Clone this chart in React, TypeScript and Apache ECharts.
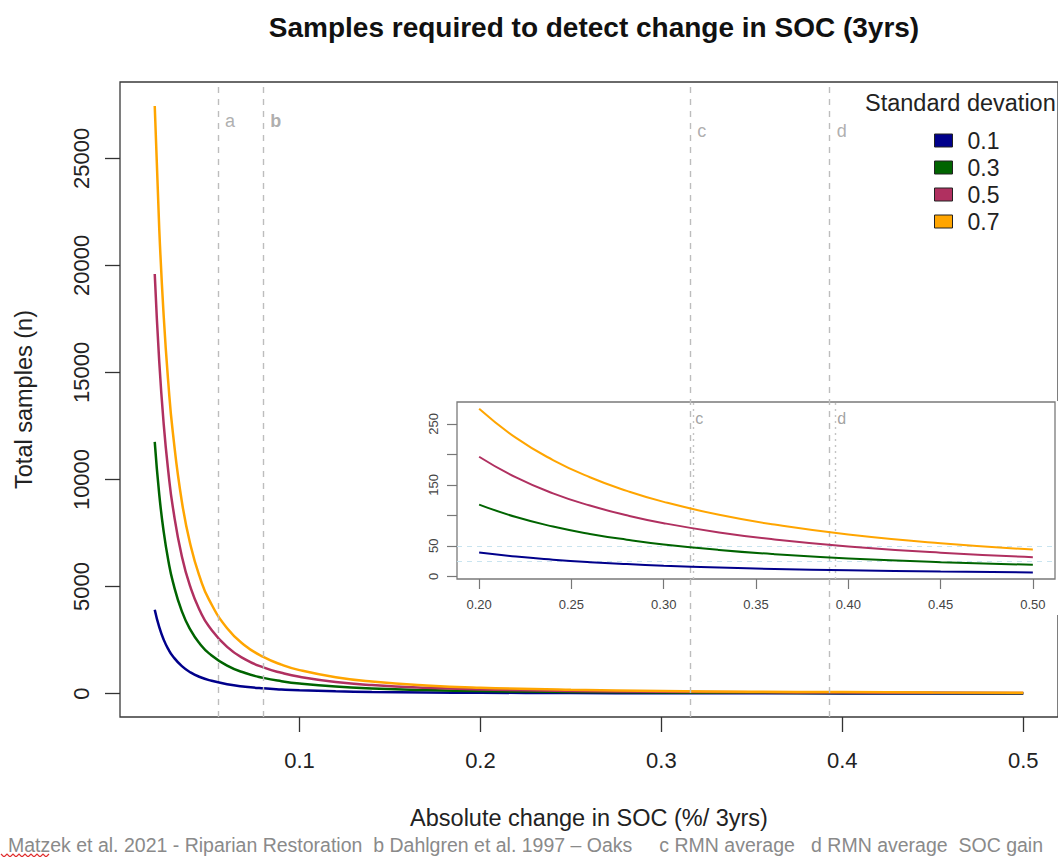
import React, { useEffect, useRef } from "react";
import * as echarts from "echarts";

// ---- data ----
const sdNames = ["0.1", "0.3", "0.5", "0.7"];
const sdColors = ["#00008B", "#006400", "#B03060", "#FFA500"];

// main plot: absolute change in SOC (x) and total samples (y)
const xMain = [0.02, 0.0225, 0.025, 0.0275, 0.03, 0.035, 0.04, 0.045, 0.05, 0.06, 0.07, 0.08, 0.09, 0.1, 0.12, 0.14, 0.17, 0.2, 0.25, 0.3, 0.35, 0.4, 0.45, 0.5];
const mainSd01 = [3920, 3100, 2510, 2075, 1745, 1280, 980, 775, 630, 435, 320, 245, 195, 157, 109, 80, 54, 39, 25, 17, 13, 10, 8, 6];
const mainSd03 = [11760, 9290, 7530, 6220, 5230, 3840, 2940, 2320, 1880, 1305, 960, 735, 580, 470, 327, 240, 163, 118, 75, 52, 38, 29, 23, 19];
const mainSd05 = [19600, 15490, 12540, 10370, 8710, 6400, 4900, 3870, 3135, 2180, 1600, 1225, 970, 784, 544, 400, 271, 196, 125, 87, 64, 49, 39, 31];
const mainSd07 = [27450, 21690, 17570, 14520, 12200, 8960, 6860, 5420, 4390, 3050, 2240, 1715, 1355, 1098, 762, 560, 380, 275, 176, 122, 90, 69, 54, 44];

// inset: zoom on 0.2 - 0.5
const xInset = [0.2, 0.22, 0.24, 0.26, 0.28, 0.3, 0.33, 0.36, 0.4, 0.45, 0.5];
const insetSd01 = [39.2, 32.4, 27.3, 23.2, 20.0, 17.4, 14.4, 12.1, 9.8, 7.8, 6.3];
const insetSd03 = [117.6, 97.1, 81.6, 69.5, 60.0, 52.2, 43.2, 36.3, 29.4, 23.2, 18.8];
const insetSd05 = [196, 162, 136, 116, 100, 87.1, 72.0, 60.5, 49.0, 38.7, 31.4];
const insetSd07 = [274.5, 226.8, 190.6, 162.4, 140.1, 122, 100.8, 84.8, 68.6, 54.2, 43.9];

// reference lines
const refLetters = ["a", "b", "c", "d"];
const refBold = [false, true, false, false];
const refX = [0.055, 0.08, 0.316, 0.393];
const refLabelY = [26750, 26750, 26300, 26300];
const insetRefLetters = ["c", "d"];
const insetRefX = [0.316, 0.393];
const insetRefLabelY = [259, 259];
const insetHLines = [50, 25];

// ticks
const xTicksMain = [0.1, 0.2, 0.3, 0.4, 0.5];
const yTicksMain = [0, 5000, 10000, 15000, 20000, 25000];
const xTicksInset = [0.2, 0.25, 0.3, 0.35, 0.4, 0.45, 0.5];
const yTicksInset = [0, 50, 100, 150, 200, 250];
const yLabelsInset = [0, 50, 150, 250];

const footnote =
  "Matzek et al. 2021 - Riparian Restoration  b Dahlgren et al. 1997 \u2013 Oaks     c RMN average   d RMN average  SOC gain";

const FONT = "'Liberation Sans', Arial, Helvetica, sans-serif";

const pairs = (xs: number[], ys: number[]) => xs.map((x, i) => [x, ys[i]]);

export default function App() {
  const ref = useRef<HTMLDivElement>(null);

  useEffect(() => {
    document.body.style.margin = "0";
    if (!ref.current) return;
    const chart = echarts.init(ref.current, null, { renderer: "svg" });

    const mainSets = [mainSd01, mainSd03, mainSd05, mainSd07];
    const insetSets = [insetSd01, insetSd03, insetSd05, insetSd07];

    const mainSeries: any[] = mainSets.map((ys, i) => ({
      name: sdNames[i],
      type: "line",
      xAxisIndex: 0,
      yAxisIndex: 0,
      data: pairs(xMain, ys),
      showSymbol: false,
      smooth: true,
      lineStyle: { color: sdColors[i], width: 2.5 },
      itemStyle: { color: sdColors[i] },
      z: 2,
      ...(i === 0
        ? {
            markLine: {
              silent: true,
              symbol: "none",
              precision: 4,
              label: { show: false },
              lineStyle: { color: "#bdbdbd", type: [6, 6], width: 1.4 },
              data: refX.map((x) => ({ xAxis: x })),
            },
          }
        : {}),
    }));

    const insetSeries: any[] = insetSets.map((ys, i) => ({
      name: sdNames[i],
      type: "line",
      xAxisIndex: 1,
      yAxisIndex: 1,
      data: pairs(xInset, ys),
      showSymbol: false,
      smooth: true,
      lineStyle: { color: sdColors[i], width: 2 },
      itemStyle: { color: sdColors[i] },
      z: 6,
      ...(i === 0
        ? {
            markLine: {
              silent: true,
              symbol: "none",
              precision: 4,
              label: { show: false },
              data: [
                ...insetRefX.map((x) => ({
                  xAxis: x,
                  lineStyle: { color: "#c4c4c4", type: [2, 4], width: 1.4 },
                })),
                ...insetHLines.map((y) => ({
                  yAxis: y,
                  lineStyle: { color: "#c9e4ef", type: [5, 5], width: 1.2 },
                })),
              ],
            },
          }
        : {}),
    }));

    const letterSeries: any[] = [
      {
        name: "refLetters",
        type: "scatter",
        xAxisIndex: 0,
        yAxisIndex: 0,
        symbolSize: 0,
        z: 2,
        data: refX.map((x, i) => [x, refLabelY[i]]),
        label: {
          show: true,
          position: "right",
          distance: 7,
          formatter: (p: any) =>
            refBold[p.dataIndex] ? `{b|${refLetters[p.dataIndex]}}` : refLetters[p.dataIndex],
          color: "#9a9a9a",
          fontSize: 18,
          fontFamily: FONT,
          rich: { b: { fontWeight: "bold", color: "#999", fontSize: 18, fontFamily: FONT } },
        },
      },
      {
        name: "insetLetters",
        type: "scatter",
        xAxisIndex: 1,
        yAxisIndex: 1,
        symbolSize: 0,
        z: 6,
        data: insetRefX.map((x, i) => [x, insetRefLabelY[i]]),
        label: {
          show: true,
          position: "right",
          distance: 2,
          formatter: (p: any) => insetRefLetters[p.dataIndex],
          color: "#8a8a8a",
          fontSize: 16,
          fontFamily: FONT,
        },
      },
    ];

    const option: any = {
      animation: false,
      backgroundColor: "#ffffff",
      textStyle: { fontFamily: FONT },
      title: {
        text: "Samples required to detect change in SOC (3yrs)",
        left: 589,
        top: 8,
        textAlign: "center",
        textStyle: { fontSize: 28, fontWeight: "bold", color: "#111", fontFamily: FONT },
      },
      legend: {
        data: sdNames,
        orient: "vertical",
        left: 929,
        top: 124,
        itemWidth: 18,
        itemHeight: 13,
        itemGap: 4,
        icon: "rect",
        selectedMode: false,
        itemStyle: { borderColor: "#222", borderWidth: 1 },
        textStyle: { fontSize: 23, color: "#222", lineHeight: 22, padding: [0, 0, 0, 10], fontFamily: FONT },
      },
      grid: [
        {
          left: 120,
          top: 82,
          width: 938,
          height: 635,
          show: true,
          backgroundColor: "transparent",
          borderColor: "#3a3a3a",
          borderWidth: 1.3,
          z: 0,
        },
        {
          left: 457,
          top: 402,
          width: 598,
          height: 177,
          show: true,
          backgroundColor: "transparent",
          borderColor: "#7a7a7a",
          borderWidth: 1.3,
          z: 5,
        },
      ],
      xAxis: [
        {
          type: "value",
          gridIndex: 0,
          min: 0.0008,
          max: 0.5192,
          axisLine: { show: false, onZero: false },
          splitLine: { show: false },
          axisTick: { show: true, customValues: xTicksMain, length: 15, lineStyle: { color: "#333", width: 1.3 } },
          axisLabel: {
            customValues: xTicksMain,
            margin: 32,
            fontSize: 22,
            color: "#222",
            formatter: (v: number) => String(v),
          },
          name: "Absolute change in SOC (%/ 3yrs)",
          nameLocation: "middle",
          nameGap: 89,
          nameTextStyle: { fontSize: 23.5, color: "#222", fontFamily: FONT },
        },
        {
          type: "value",
          gridIndex: 1,
          min: 0.188,
          max: 0.512,
          z: 5,
          axisLine: { show: false, onZero: false },
          splitLine: { show: false },
          axisTick: { show: true, customValues: xTicksInset, length: 10, lineStyle: { color: "#777", width: 1.2 } },
          axisLabel: {
            customValues: xTicksInset,
            margin: 19,
            fontSize: 13,
            color: "#444",
            formatter: (v: number) => v.toFixed(2),
          },
        },
      ],
      yAxis: [
        {
          type: "value",
          gridIndex: 0,
          min: -1093,
          max: 28568,
          axisLine: { show: false, onZero: false },
          splitLine: { show: false },
          axisTick: { show: true, customValues: yTicksMain, length: 15, lineStyle: { color: "#333", width: 1.3 } },
          axisLabel: {
            customValues: yTicksMain,
            rotate: 90,
            margin: 28,
            fontSize: 22,
            color: "#222",
            formatter: (v: number) => String(v),
          },
          name: "Total samples (n)",
          nameLocation: "middle",
          nameGap: 84,
          nameTextStyle: { fontSize: 23.5, color: "#222", fontFamily: FONT },
        },
        {
          type: "value",
          gridIndex: 1,
          min: -4.4,
          max: 285.7,
          z: 5,
          axisLine: { show: false, onZero: false },
          splitLine: { show: false },
          axisTick: { show: true, customValues: yTicksInset, length: 10, lineStyle: { color: "#777", width: 1.2 } },
          axisLabel: {
            customValues: yLabelsInset,
            rotate: 90,
            margin: 17,
            fontSize: 13,
            color: "#444",
            formatter: (v: number) => String(v),
          },
        },
      ],
      graphic: [
        {
          type: "rect",
          z: 4,
          silent: true,
          shape: { x: 423, y: 401, width: 640, height: 214 },
          style: { fill: "#ffffff" },
        },
        {
          type: "text",
          z: 10,
          x: 865,
          y: 103,
          style: {
            text: "Standard devation",
            fontSize: 23.5,
            fill: "#222",
            fontFamily: FONT,
            align: "left",
            verticalAlign: "middle",
          },
        },
        {
          type: "text",
          z: 10,
          x: 1043,
          y: 845,
          scaleX: 0.975,
          style: {
            text: footnote,
            fontSize: 20,
            fill: "#8a8a8a",
            fontFamily: FONT,
            align: "right",
            verticalAlign: "middle",
          },
        },
        {
          type: "polyline",
          z: 10,
          shape: {
            points: [
              [1, 854], [4, 857], [7, 854], [10, 857], [13, 854], [16, 857], [19, 854],
              [22, 857], [25, 854], [28, 857], [31, 854], [34, 857], [37, 854], [40, 857],
              [43, 854], [46, 857], [49, 854],
            ],
          },
          style: { stroke: "#e03030", lineWidth: 1.2, fill: "none" },
        },
      ],
      series: [...mainSeries, ...insetSeries, ...letterSeries],
    };

    chart.setOption(option);
    return () => chart.dispose();
  }, []);

  return <div ref={ref} style={{ width: 1058, height: 857 }} />;
}
